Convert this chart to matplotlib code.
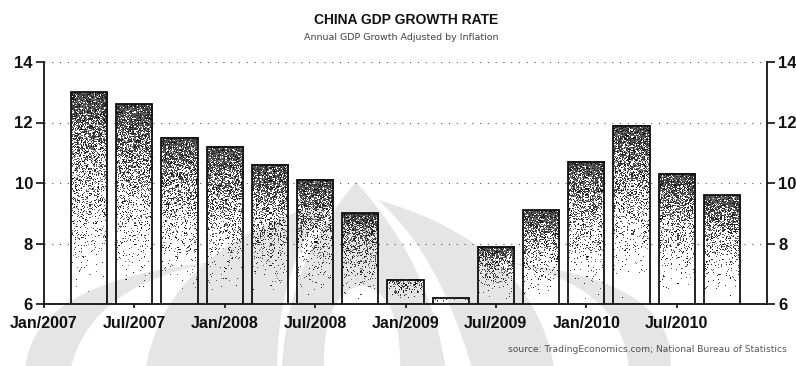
import numpy as np
import matplotlib
matplotlib.use("Agg")
import matplotlib.pyplot as plt
from matplotlib.patches import Polygon

# Quarterly China GDP growth, % year on year (Q1 2007 .. Q3 2010)
quarters = ["Q1 2007", "Q2 2007", "Q3 2007", "Q4 2007",
            "Q1 2008", "Q2 2008", "Q3 2008", "Q4 2008",
            "Q1 2009", "Q2 2009", "Q3 2009", "Q4 2009",
            "Q1 2010", "Q2 2010", "Q3 2010"]
growth = [13.0, 12.6, 11.5, 11.2, 10.6, 10.1, 9.0, 6.8,
          6.2, 7.9, 9.1, 10.7, 11.9, 10.3, 9.6]
tick_labels = ["Jan/2007", "Jul/2007", "Jan/2008", "Jul/2008",
               "Jan/2009", "Jul/2009", "Jan/2010", "Jul/2010"]
y_ticks = [6, 8, 10, 12, 14]

W, H = 796, 366
fig = plt.figure(figsize=(W / 100, H / 100), dpi=100)
fig.patch.set_facecolor("white")
ax = fig.add_axes([44 / W, 1 - 304 / H, (767 - 44) / W, (304 - 62) / H])
ax.set_xlim(0, 16)
ax.set_ylim(6, 14)
base = 6

# bars sit at quarter-end positions (one unit per quarter from Jan/2007)
xpos = np.arange(1, len(growth) + 1)
bars = ax.bar(xpos, [g - base for g in growth], bottom=base, width=0.8,
              facecolor="none", edgecolor="#111111", linewidth=1.3, zorder=4)

# stippled dark-to-white fill for every bar
rng = np.random.default_rng(7)
px_per_unit_y = (304 - 62) / 8
for b in bars:
    x0, w = b.get_x(), b.get_width()
    y0, h = b.get_y(), b.get_height()
    ncols = 36
    nrows = max(2, int(round(h * px_per_unit_y)))
    t = np.linspace(1, 0, nrows)[:, None]          # 1 at top, 0 at bottom
    top_dark = 0.95 * min(1.0, 0.3 + h / 2.4)
    dark = top_dark * t ** 2.0
    noise = rng.random((nrows, ncols))
    ink = noise < dark
    shade = 0.05 + 0.45 * rng.random((nrows, ncols))
    img = np.ones((nrows, ncols, 3))
    img[ink] = shade[ink][:, None]
    ax.imshow(img, extent=(x0, x0 + w, y0, y0 + h), aspect="auto",
              interpolation="nearest", zorder=3)

ax.set_xlim(0, 16)
ax.set_ylim(6, 14)

# axes frame
for side in ("left", "right", "bottom"):
    ax.spines[side].set_linewidth(1.3)
    ax.spines[side].set_color("#111111")
ax.spines["top"].set_visible(False)

lab_font = dict(family="Liberation Sans", weight="bold", size=12)
ax.set_yticks(y_ticks)
ax.set_yticklabels([str(v) for v in y_ticks], fontdict=lab_font)
ax.tick_params(axis="y", left=True, right=True, labelleft=True, labelright=True,
               length=6, width=1.2, pad=2, colors="#111111", direction="out")
ax.set_xticks(np.arange(0, 16, 2))
ax.set_xticklabels(tick_labels, fontdict=dict(family="Liberation Sans", weight="bold", size=11.5))
ax.tick_params(axis="x", length=3, width=1.2, pad=6, colors="#111111")

# sparse dotted horizontal guides
ax.set_axisbelow(True)
for v in y_ticks[1:]:
    ax.axhline(v, color="#555555", linewidth=0.8, linestyle=(0, (1, 6)), zorder=1)

fig.text(406 / W, 1 - 20 / H, "CHINA GDP GROWTH RATE", ha="center", va="center",
         family="Liberation Sans", weight="bold", size=10, color="#111111")
fig.text(401 / W, 1 - 38 / H, "Annual GDP Growth Adjusted by Inflation",
         ha="center", va="center", family="DejaVu Sans", size=6.8, color="#444444")
fig.text(787 / W, 1 - 349 / H,
         "source: TradingEconomics.com; National Bureau of Statistics",
         ha="right", va="center", family="DejaVu Sans", size=6.6, color="#555555")


# faint logo watermark laid over the page (pixel coordinates, y downward)
def qcurve(p0, c, p1, n=40):
    s = np.linspace(0, 1, n)[:, None]
    p0, c, p1 = map(np.asarray, (p0, c, p1))
    return (1 - s) ** 2 * p0 + 2 * (1 - s) * s * c + s ** 2 * p1


def to_fig(pts):
    pts = np.asarray(pts, dtype=float)
    return np.column_stack([pts[:, 0] / W, 1 - pts[:, 1] / H])


shapes = [
    # outer left crescent
    np.vstack([qcurve((25, 372), (30, 280), (215, 262)),
               qcurve((215, 262), (88, 285), (70, 372))]),
    # inner left crescent
    np.vstack([qcurve((145, 372), (165, 245), (335, 200)),
               qcurve((335, 200), (278, 255), (277, 372))]),
    # central drop (open at the bottom, arched opening)
    np.vstack([qcurve((356, 182), (285, 265), (282, 372)),
               qcurve((324, 372), (322, 292), (362, 286)),
               qcurve((362, 286), (402, 292), (400, 372)),
               qcurve((446, 372), (432, 265), (356, 182))]),
    # inner right crescent
    np.vstack([qcurve((555, 372), (535, 245), (378, 200)),
               qcurve((378, 200), (440, 255), (473, 372))]),
    # outer right crescent
    np.vstack([qcurve((670, 372), (682, 280), (505, 262)),
               qcurve((505, 262), (625, 285), (629, 372))]),
]
for pts in shapes:
    fig.patches.append(Polygon(to_fig(pts), closed=True, transform=fig.transFigure,
                               facecolor="black", edgecolor="none", alpha=0.10,
                               zorder=10))

fig.savefig("out.png", dpi=100)
